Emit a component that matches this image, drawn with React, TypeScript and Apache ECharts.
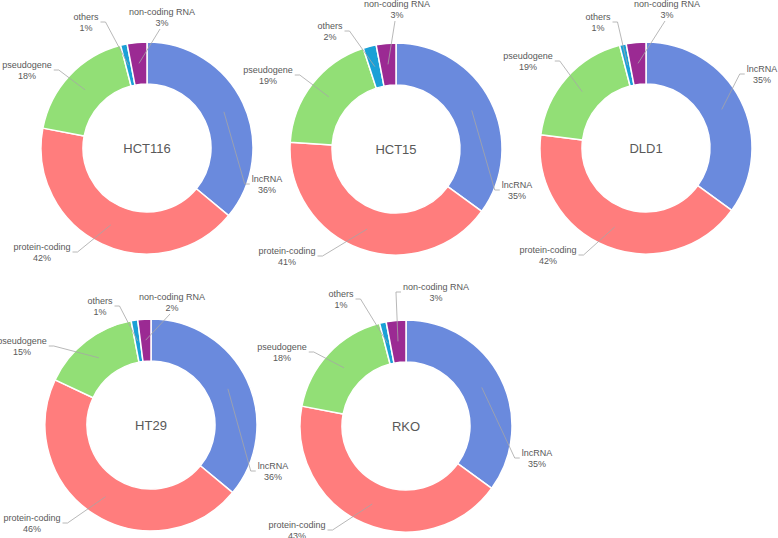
import React, { useEffect, useRef } from "react";
import * as echarts from "echarts";

const categories = ["lncRNA", "protein-coding", "pseudogene", "others", "non-coding RNA"];
const cellLines = ["HCT116", "HCT15", "DLD1", "HT29", "RKO"];
const hct116Values = [36, 42, 18, 1, 3];
const hct15Values = [35, 41, 19, 2, 3];
const dld1Values = [35, 42, 19, 1, 3];
const ht29Values = [36, 46, 15, 1, 2];
const rkoValues = [35, 43, 18, 1, 3];
const seriesValues = [hct116Values, hct15Values, dld1Values, ht29Values, rkoValues];

const colors = ["#6a8add", "#ff7d7d", "#92df76", "#1aa0d6", "#9b2a93"];

// layout (pixels)
const centers = [
  [147, 148],
  [396, 149],
  [646, 148],
  [151, 425],
  [406, 426],
];
const INNER = 64;
const OUTER = 106;
// label centre offsets from pie centre, per chart, per category
const labelOffsets = [
  [[120, 36], [-105, 104], [-120, -78], [-61, -126], [15, -131]],
  [[121, 41], [-109, 107], [-128, -74], [-66, -118], [1, -140]],
  [[116, -74], [-98, 107], [-118, -87], [-48, -126], [21, -139]],
  [[122, 46], [-119, 98], [-129, -79], [-51, -119], [21, -123]],
  [[131, 32], [-109, 104], [-124, -74], [-65, -127], [30, -134]],
];

const FONT = "'Liberation Sans', Arial, sans-serif";
const FONT_SIZE = 9;
const LINE_H = 11;
const TEXT_COLOR = "#595959";

function midAngle(values: number[], idx: number) {
  const total = values.reduce((a, b) => a + b, 0);
  let cum = 0;
  for (let i = 0; i < idx; i++) cum += values[i];
  return ((cum + values[idx] / 2) / total) * Math.PI * 2;
}

let measureCtx: CanvasRenderingContext2D | null = null;
function textWidth(t: string) {
  if (!measureCtx) {
    const c = document.createElement("canvas");
    measureCtx = c.getContext("2d");
  }
  if (!measureCtx) return t.length * FONT_SIZE * 0.55;
  measureCtx.font = `${FONT_SIZE}px ${FONT}`;
  return measureCtx.measureText(t).width;
}

function leaderPoints(s: number, d: number) {
  const [cx, cy] = centers[s];
  const [ox, oy] = labelOffsets[s][d];
  const lx = cx + ox;
  const ly = cy + oy;
  const vals = seriesValues[s];
  const a = midAngle(vals, d);
  const rm = (INNER + OUTER) / 2;
  const sx = cx + rm * Math.sin(a);
  const sy = cy - rm * Math.cos(a);
  const w = Math.max(textWidth(categories[d]), textWidth(`${vals[d]}%`));
  const h = LINE_H * 2;
  if (Math.abs(sx - lx) < w / 2) {
    const ey = sy > ly ? ly + h / 2 + 1 : ly - h / 2 - 1;
    const ex = lx + (sx > lx ? 2 : -2);
    return [[sx, sy], [ex, ey]];
  }
  const dir = sx > lx ? 1 : -1;
  const ex = lx + dir * (w / 2 + 2);
  return [[sx, sy], [ex + dir * 5, ly], [ex, ly]];
}

export default function App() {
  const ref = useRef<HTMLDivElement>(null);
  useEffect(() => {
    if (!ref.current) return;
    const chart = echarts.init(ref.current, undefined, { renderer: "svg" });
    const pies = seriesValues.map((vals, si) => ({
      type: "pie",
      name: cellLines[si],
      center: centers[si],
      radius: [INNER, OUTER],
      startAngle: 90,
      clockwise: true,
      avoidLabelOverlap: false,
      silent: true,
      itemStyle: { borderColor: "#ffffff", borderWidth: 1.5 },
      label: {
        show: true,
        position: "outside",
        formatter: (p: any) => `${p.name}\n${p.value}%`,
        fontFamily: FONT,
        fontSize: FONT_SIZE,
        lineHeight: LINE_H,
        color: TEXT_COLOR,
        align: "center",
      },
      labelLine: { show: false },
      labelLayout: (params: any) => {
        const s = params.seriesIndex;
        const d = params.dataIndex;
        const [cx, cy] = centers[s];
        const [ox, oy] = labelOffsets[s][d];
        return {
          x: cx + ox,
          y: cy + oy,
          align: "center",
          verticalAlign: "middle",
        };
      },
      emphasis: { disabled: true },
      data: categories.map((c, i) => ({
        name: c,
        value: vals[i],
        itemStyle: { color: colors[i] },
      })),
    }));
    const pairs: number[][] = [];
    seriesValues.forEach((vals, s) => vals.forEach((_, d) => pairs.push([s, d])));
    const leaders = {
      type: "custom",
      coordinateSystem: "none",
      silent: true,
      z: 5,
      data: pairs,
      renderItem: (_params: any, api: any) => {
        const s = api.value(0);
        const d = api.value(1);
        return {
          type: "polyline",
          shape: { points: leaderPoints(s, d) },
          style: { stroke: "#a6a6a6", lineWidth: 0.8, fill: "none" },
        };
      },
    };
    chart.setOption({
      animation: false,
      backgroundColor: "#ffffff",
      graphic: cellLines.map((name, i) => ({
        type: "text",
        x: centers[i][0],
        y: centers[i][1],
        silent: true,
        style: {
          text: name,
          fontFamily: FONT,
          fontSize: 13,
          fill: TEXT_COLOR,
          align: "center",
          verticalAlign: "middle",
        },
      })),
      series: [...pies, leaders],
    });
    return () => chart.dispose();
  }, []);
  return (
    <div
      ref={ref}
      style={{ position: "fixed", left: 0, top: 0, width: 778, height: 538 }}
    />
  );
}
